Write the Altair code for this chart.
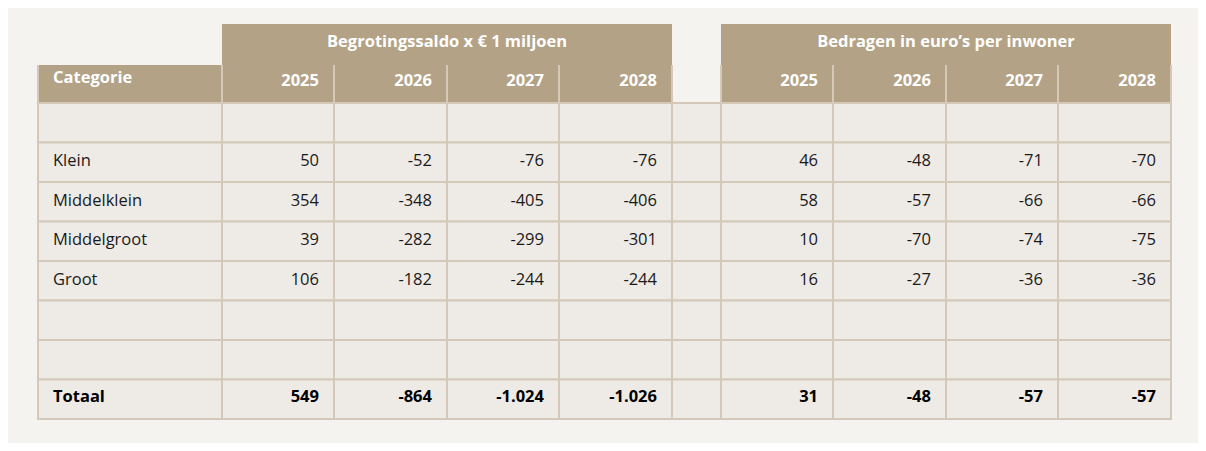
import altair as alt
import pandas as pd

# ---------------- data ----------------
first_header = "Categorie"
group_titles = ["Begrotingssaldo x € 1 miljoen", "Bedragen in euro’s per inwoner"]
years = ["2025", "2026", "2027", "2028"]
categories = ["Klein", "Middelklein", "Middelgroot", "Groot"]
total_label = "Totaal"

saldo_2025 = [50, 354, 39, 106]
saldo_2026 = [-52, -348, -282, -182]
saldo_2027 = [-76, -405, -299, -244]
saldo_2028 = [-76, -406, -301, -244]
saldo_totaal = [549, -864, -1024, -1026]

inwoner_2025 = [46, 58, 10, 16]
inwoner_2026 = [-48, -57, -70, -27]
inwoner_2027 = [-71, -66, -74, -36]
inwoner_2028 = [-70, -66, -75, -36]
inwoner_totaal = [31, -48, -57, -57]

# ---------------- layout / style ----------------
BG = "#f5f3ef"
HEAD = "#b3a286"
CELL = "#eeebe6"
BORDER = "#d4c9b9"
TEXT = "#1a1a1a"
FONT = "Open Sans"
FS = 16.5

COL = [38, 222, 334, 447, 559, 672, 721, 833, 946, 1058, 1171]
GROUP_TOP, HEAD_TOP, BODY_TOP, ROW_H, N_ROWS = 24, 65, 103, 39.5, 8
BODY_ROW_OF_CAT = [1, 2, 3, 4]
TOTAL_ROW = 7
PAD_R = 15
TEXT_X0 = 53


def fmt(v):
    return f"{v:,}".replace(",", ".")


# body cells
cells = []
for r in range(N_ROWS):
    for c in range(len(COL) - 1):
        cells.append(dict(x=COL[c], x2=COL[c + 1], y=BODY_TOP + r * ROW_H, y2=BODY_TOP + (r + 1) * ROW_H))
cells = pd.DataFrame(cells)

# header fills
heads = [dict(x=COL[0], x2=COL[5], y=HEAD_TOP, y2=BODY_TOP),
         dict(x=COL[6], x2=COL[10], y=HEAD_TOP, y2=BODY_TOP),
         dict(x=COL[1], x2=COL[5], y=GROUP_TOP, y2=HEAD_TOP + 1),
         dict(x=COL[6], x2=COL[10], y=GROUP_TOP, y2=HEAD_TOP + 1)]
heads = pd.DataFrame(heads)

# header vertical separators
seps = pd.DataFrame([dict(x=x, y=HEAD_TOP, y2=BODY_TOP) for x in COL])

# texts
body_txt, bold_txt = [], []
saldo_cols = [saldo_2025, saldo_2026, saldo_2027, saldo_2028]
inw_cols = [inwoner_2025, inwoner_2026, inwoner_2027, inwoner_2028]
cat_txt = []
for i, cat in enumerate(categories):
    r = BODY_ROW_OF_CAT[i]
    yb = BODY_TOP + r * ROW_H + 23.5
    cat_txt.append(dict(x=TEXT_X0, y=yb, t=cat))
    for j in range(4):
        body_txt.append(dict(x=COL[1 + j + 1] - PAD_R, y=yb, t=fmt(saldo_cols[j][i])))
        body_txt.append(dict(x=COL[6 + j + 1] - PAD_R, y=yb, t=fmt(inw_cols[j][i])))
yt = BODY_TOP + TOTAL_ROW * ROW_H + 22
for j in range(4):
    bold_txt.append(dict(x=COL[1 + j + 1] - PAD_R, y=yt, t=fmt(saldo_totaal[j])))
    bold_txt.append(dict(x=COL[6 + j + 1] - PAD_R, y=yt, t=fmt(inwoner_totaal[j])))
cat_txt = pd.DataFrame(cat_txt)
body_txt = pd.DataFrame(body_txt)
bold_txt = pd.DataFrame(bold_txt)
total_txt = pd.DataFrame([dict(x=TEXT_X0, y=yt, t=total_label)])

year_txt = pd.DataFrame(
    [dict(x=COL[1 + j + 1] - PAD_R, y=86, t=yr) for j, yr in enumerate(years)]
    + [dict(x=COL[6 + j + 1] - PAD_R, y=86, t=yr) for j, yr in enumerate(years)])
cat_head = pd.DataFrame([dict(x=TEXT_X0, y=83, t=first_header)])
group_txt = pd.DataFrame([dict(x=(COL[1] + COL[5]) / 2, y=47, t=group_titles[0]),
                          dict(x=(COL[6] + COL[10]) / 2, y=47, t=group_titles[1])])

xs = alt.Scale(domain=[8, 1198], nice=False, zero=False)
ys = alt.Scale(domain=[8, 443], nice=False, zero=False, reverse=True)
X = lambda f="x": alt.X(f"{f}:Q", scale=xs, axis=None)
Y = lambda f="y": alt.Y(f"{f}:Q", scale=ys, axis=None)

head_layer = alt.Chart(heads).mark_rect(fill=HEAD).encode(
    x=X(), x2="x2:Q", y=Y(), y2="y2:Q")
cell_layer = alt.Chart(cells).mark_rect(fill=CELL, stroke=BORDER, strokeWidth=2).encode(
    x=X(), x2="x2:Q", y=Y(), y2="y2:Q")
sep_layer = alt.Chart(seps).mark_rule(color=BORDER, strokeWidth=2).encode(
    x=X(), y=Y(), y2="y2:Q")


def txt(df, align, weight, color, size=FS):
    return alt.Chart(df).mark_text(align=align, baseline="alphabetic", font=FONT, fontSize=size,
                                   fontWeight=weight, color=color).encode(
        x=X(), y=Y(), text="t:N")


chart = alt.layer(
    head_layer, cell_layer, sep_layer,
    txt(cat_txt, "left", "normal", TEXT),
    txt(body_txt, "right", "normal", TEXT),
    txt(total_txt, "left", "bold", "#000000"),
    txt(bold_txt, "right", "bold", "#000000"),
    txt(cat_head, "left", "bold", "#ffffff"),
    txt(year_txt, "right", "bold", "#ffffff"),
    txt(group_txt, "center", "bold", "#ffffff"),
).properties(
    width=1190, height=435, background=BG,
    autosize=alt.AutoSizeParams(type="none"), padding=0,
).configure_view(stroke=None)

chart.save("out.html", embed_options={"renderer": "svg", "actions": False})
